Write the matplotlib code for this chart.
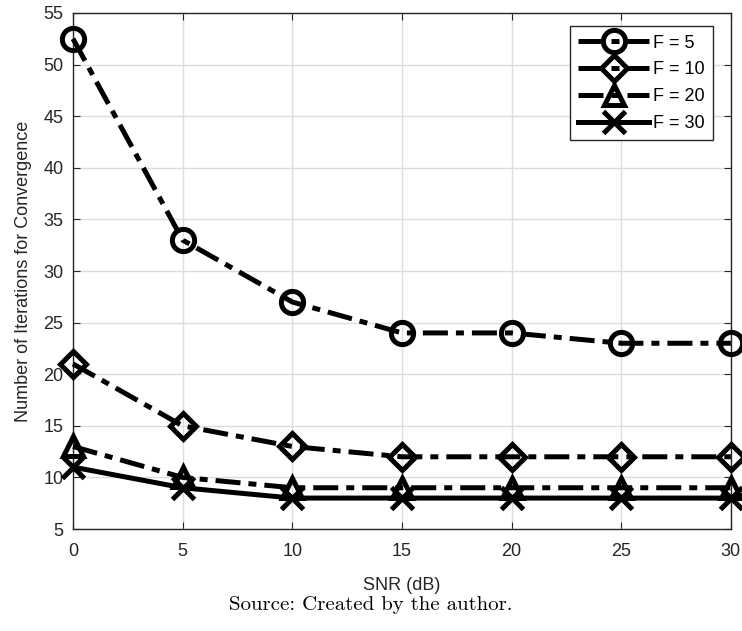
import matplotlib
matplotlib.use("Agg")
import matplotlib.pyplot as plt

snr_db = [0, 5, 10, 15, 20, 25, 30]
iters_f5 = [52.5, 33, 27, 24, 24, 23, 23]
iters_f10 = [21, 15, 13, 12, 12, 12, 12]
iters_f20 = [13, 10, 9, 9, 9, 9, 9]
iters_f30 = [11, 9, 8, 8, 8, 8, 8]
labels = ["F = 5", "F = 10", "F = 20", "F = 30"]

plt.rcParams['font.family'] = ['Liberation Sans', 'DejaVu Sans']

fig = plt.figure(figsize=(7.42, 6.31), dpi=100)
ax = fig.add_axes([0.0984, 0.1616, 0.8866, 0.8178])

dashdot = (0, (5, 1.6, 1.6, 1.6))
styles = [
    (iters_f5, 'o', dashdot, 16),
    (iters_f10, 'D', dashdot, 13),
    (iters_f20, '^', dashdot, 15),
    (iters_f30, 'x', '-', 16),
]
for (vals, mk, ls, ms), lab in zip(styles, labels):
    ax.plot(snr_db, vals, color='black', linestyle=ls, linewidth=3.6,
            marker=mk, markersize=ms, markerfacecolor='none',
            markeredgewidth=3.6, label=lab, clip_on=False, zorder=3)

ax.set_xlim(0, 30)
ax.set_ylim(5, 55)
ax.set_xticks(range(0, 31, 5))
ax.set_yticks(range(5, 56, 5))
ax.grid(True, color='#dcdcdc', linewidth=1)
ax.set_axisbelow(True)
ax.tick_params(direction='in', labelsize=13, colors='#262626', length=5,
               top=True, right=True)
ax.tick_params(axis='x', pad=10)
ax.tick_params(axis='y', pad=7)
for s in ax.spines.values():
    s.set_color('#262626')
    s.set_linewidth(1)

ax.set_xlabel("SNR (dB)", fontsize=13, color='#262626', labelpad=12)
ax.set_ylabel("Number of Iterations for Convergence", fontsize=13,
              color='#262626', labelpad=8)

leg = ax.legend(loc='upper right', bbox_to_anchor=(0.973, 0.974),
                borderaxespad=0, fontsize=13, handlelength=3.9,
                handletextpad=0.25, labelspacing=0.55, borderpad=0.45,
                fancybox=False, framealpha=1, edgecolor='#262626')
leg.get_frame().set_linewidth(1)

fig.text(0.5, 0.041, "Source: Created by the author.", ha='center',
         va='center', fontsize=15, family='cmr10')

fig.savefig("out.png", dpi=100)
